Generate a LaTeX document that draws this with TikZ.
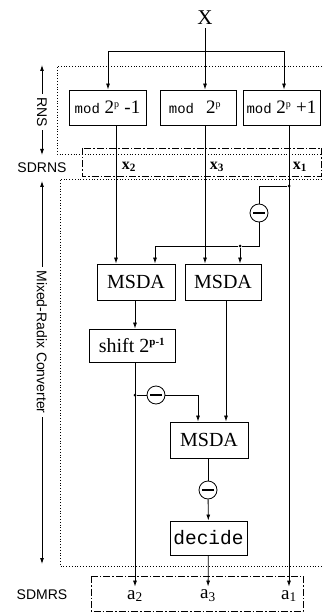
\documentclass[tikz,border=0pt]{standalone}
\usepackage{fontspec}
\setmainfont{Liberation Serif}
\setsansfont{Liberation Sans}
\setmonofont{Liberation Mono}
\usetikzlibrary{arrows.meta,positioning,calc}
\newcommand{\fs}[1]{\fontsize{#1}{#1}\selectfont}
\newcommand{\modtxt}[2]{\raisebox{-4pt}{{\ttfamily\fs{14}mod}#1{\fs{19}2}\textsuperscript{\fs{10}p}#2}}
\tikzset{
  flowbox/.style={
    draw,line width=0.9pt,minimum height=35pt,inner sep=1pt,font=\fs{20}
  },
  modbox/.style={flowbox,minimum width=77pt,font=\fs{19}},
  msdabox/.style={flowbox,minimum width=78pt,minimum height=36pt},
  flowarrow/.style={-{Latex[length=6pt,width=4pt]},line width=0.8pt},
  flowline/.style={line width=0.8pt},
  minusnode/.style={
    circle,draw,line width=0.8pt,minimum size=18pt,inner sep=0pt,
    path picture={\draw[line width=1.4pt]
      ([xshift=-6pt]path picture bounding box.center) --
      ([xshift=6pt]path picture bounding box.center);}
  },
  joindot/.style={circle,fill,inner sep=0pt,minimum size=3pt},
  sidelabel/.style={font=\sffamily\fs{14}},
  dotframe/.style={dotted,line width=0.8pt},
  dashframe/.style={dash pattern=on 7pt off 2pt on 1.5pt off 2pt,line width=0.8pt},
  colvar/.style={font=\bfseries\fs{16}},
  outvar/.style={font=\fs{19}}
}
\begin{document}
\begin{tikzpicture}[x=1pt,y=-1pt]
  \useasboundingbox (0,0) rectangle (322,612);
  % frames
  \draw[dotframe] (322,66) -| (57,154) -- (322,154);
  \draw[dashframe] (82,148) rectangle (321,176);
  \draw[dotframe] (322,179) -| (60,566) -- (322,566);
  \draw[dashframe] (91,576) rectangle (303,611);
  % column positions
  \coordinate (t1) at (108,0);
  \coordinate (t3) at (284,0);
  \coordinate (c2) at (116,0);
  \coordinate (c3) at (205,0);
  \coordinate (c1) at (289,0);
  \coordinate (c4) at (155,0);
  \coordinate (c6) at (135,0);
  \coordinate (c7) at (198,0);
  \coordinate (c8) at (226,0);
  % input and residue boxes
  \node[font=\fs{21}] (X) at (205,18) {X};
  \node[modbox] (m1) at (107.5,107.5) {\modtxt{~}{~-1}};
  \node[modbox,minimum width=76pt] (m2) at (198,107.5) {\modtxt{\hspace{12pt}}{\hspace{6pt}}};
  \node[modbox] (m3) at (281.5,107.5) {\modtxt{~}{~+1}};
  \coordinate (split) at (205,51);
  \draw[flowline] (X.south) -- (split);
  \draw[flowarrow] (split) -- (split |- m2.north);
  \draw[flowarrow] (split) -| (m1.north -| t1);
  \draw[flowarrow] (split) -| (m3.north -| t3);
  \node[colvar] (x2) at (129,167) {x\textsubscript{2}};
  \node[colvar] (x3) at (217,167) {x\textsubscript{3}};
  \node[colvar] (x1) at (300,167) {x\textsubscript{1}};
  % converter
  \node[msdabox] (ms1) at (136,282) {MSDA};
  \node[msdabox,minimum width=76pt] (ms2) at (223,282) {MSDA};
  \node[flowbox,minimum width=86pt,minimum height=33pt] (sh) at (132,345.5) {shift 2\textsuperscript{\bfseries\fs{11}p-1}};
  \node[msdabox] (ms3) at (209,440) {MSDA};
  \node[flowbox,minimum width=77pt,minimum height=34pt,font=\ttfamily\fs{19.5}] (dec) at (208.5,538) {decide};
  \node[minusnode] (n1) at (259,213) {};
  \node[minusnode] (n2) at (156,395) {};
  \node[minusnode] (n3) at (208,490) {};
  % outputs
  \node[outvar] (a2) at (135,596) {a\textsubscript{2}};
  \node[outvar] (a3) at (208,596) {a\textsubscript{3}};
  \node[outvar] (a1) at (289,596) {a\textsubscript{1}};
  % connectors
  \draw[flowarrow] (m1.south -| c2) -- (ms1.north -| c2);
  \draw[flowarrow] (m2.south -| c3) -- (ms2.north -| c3);
  \draw[flowarrow] (m3.south -| c1) -- (a1.north -| c1);
  \node[joindot] (j1) at (289,186) {};
  \draw[flowline] (j1) -| (n1);
  \node[joindot] (j2) at (240,246) {};
  \draw[flowarrow] (n1) |- (j2) -| (ms1.north -| c4);
  \draw[flowarrow] (j2) -- (ms2.north -| j2);
  \draw[flowarrow] (ms1.south -| c6) -- (sh.north -| c6);
  \draw[flowarrow] (sh.south -| c6) -- (a2.north -| c6);
  \node[joindot] (j3) at (135,395) {};
  \draw[flowarrow] (j3) -- (n2) -| (ms3.north -| c7);
  \draw[flowarrow] (ms2.south -| c8) -- (ms3.north -| c8);
  \draw[flowline] (ms3.south -| n3) -- (n3);
  \draw[flowarrow] (n3) -- (dec);
  \draw[flowarrow] (dec) -- (a3);
  % side labels
  \coordinate (rnstop) at (42,65);
  \coordinate (rnsbot) at (42,155);
  \coordinate (mrctop) at (42,181);
  \coordinate (mrcbot) at (42,564);
  \node[sidelabel,rotate=-90] (rns) at (42,112) {RNS};
  \draw[flowarrow] (rns.west) -- (rnstop);
  \draw[flowarrow] (rns.east) -- (rnsbot);
  \node[sidelabel] (sdrns) at (42,168) {SDRNS};
  \node[sidelabel,rotate=-90] (mrc) at (42,342) {Mixed-Radix Converter};
  \draw[flowarrow] (mrc.west) -- (mrctop);
  \draw[flowarrow] (mrc.east) -- (mrcbot);
  \node[sidelabel] (sdmrs) at (42,595) {SDMRS};
\end{tikzpicture}
\end{document}
